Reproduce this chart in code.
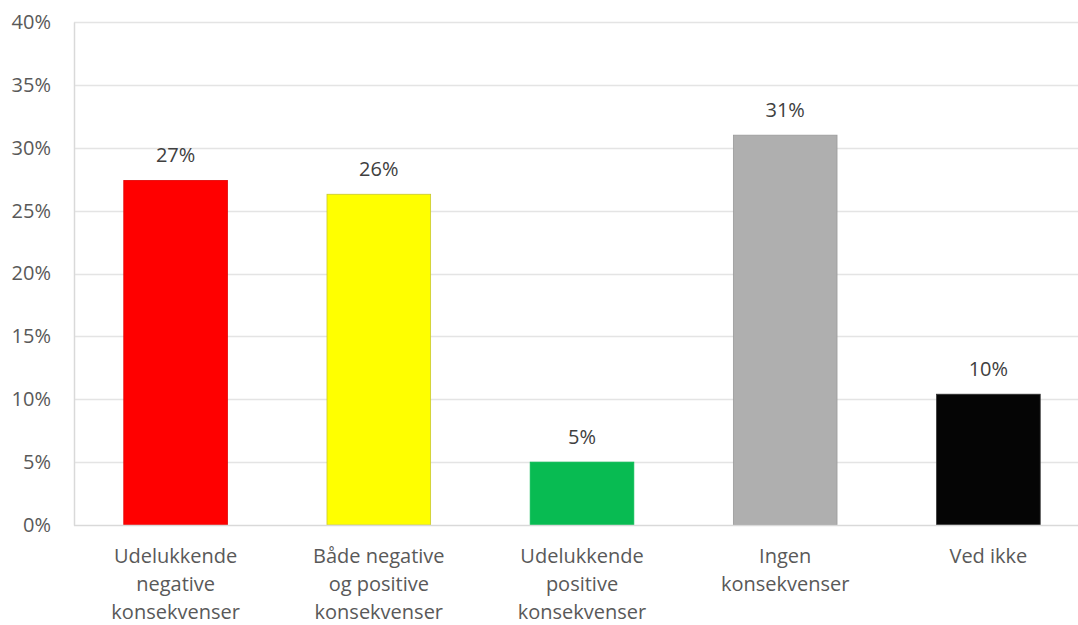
<!DOCTYPE html>
<html>
<head>
<meta charset="utf-8">
<script src="https://cdn.jsdelivr.net/npm/d3@7"></script>
<style>
  body { margin: 0; background: #fff; }
  text { font-family: "Open Sans", "Noto Sans", sans-serif; }
</style>
</head>
<body>
<div id="chart"></div>
<script>
let width = 1078;
let height = 625;
let margin = { top: 22, bottom: 100, left: 74, right: -12 };

const categories = [
  ["Udelukkende", "negative", "konsekvenser"],
  ["Både negative", "og positive", "konsekvenser"],
  ["Udelukkende", "positive", "konsekvenser"],
  ["Ingen", "konsekvenser"],
  ["Ved ikke"],
];
const values = [27.4, 26.3, 5.0, 31.0, 10.4];
const labels = ["27%", "26%", "5%", "31%", "10%"];
const colors = ["#ff0000", "#ffff00", "#08bb52", "#afafaf", "#050505"];
const strokes = ["#e00000", "#c8c830", "#08bb52", "#999999", "#333333"];
const ticks = [0, 5, 10, 15, 20, 25, 30, 35, 40];

let svg = d3
  .select("#chart")
  .append("svg")
  .attr("width", width)
  .attr("height", height);

let x = d3
  .scaleBand()
  .domain(d3.range(values.length))
  .range([margin.left, width - margin.right])
  .paddingInner(0.49)
  .paddingOuter(0.245);

let y = d3
  .scaleLinear()
  .domain([0, 40])
  .range([height - margin.bottom, margin.top]);

// gridlines
svg
  .append("g")
  .selectAll("line")
  .data(ticks.slice(1))
  .enter()
  .append("line")
  .attr("x1", margin.left)
  .attr("x2", width - margin.right)
  .attr("y1", (d) => Math.round(y(d)) + 0.5)
  .attr("y2", (d) => Math.round(y(d)) + 0.5)
  .attr("stroke", "#e4e4e4")
  .attr("stroke-width", 1.3);

// y axis
let yAxis = svg
  .append("g")
  .attr("transform", `translate(${margin.left},0)`)
  .call(
    d3
      .axisLeft(y)
      .tickValues(ticks)
      .tickSize(0)
      .tickPadding(23)
      .tickFormat((d) => d + "%")
  );
yAxis.select(".domain").attr("stroke", "#d9d9d9").attr("stroke-width", 1.5);
yAxis
  .selectAll("text")
  .attr("fill", "#595959")
  .style("font-size", "20px");

// bars
svg
  .append("g")
  .selectAll("rect")
  .data(values)
  .enter()
  .append("rect")
  .attr("x", (d, i) => x(i))
  .attr("y", (d) => y(d))
  .attr("width", x.bandwidth())
  .attr("height", (d) => y(0) - y(d))
  .attr("fill", (d, i) => colors[i])
  .attr("stroke", (d, i) => strokes[i])
  .attr("stroke-width", 0.8);

// x axis baseline
svg
  .append("line")
  .attr("x1", margin.left)
  .attr("x2", width - margin.right)
  .attr("y1", y(0) + 0.5)
  .attr("y2", y(0) + 0.5)
  .attr("stroke", "#d9d9d9")
  .attr("stroke-width", 1.5);

// data labels
svg
  .append("g")
  .selectAll("text")
  .data(values)
  .enter()
  .append("text")
  .attr("x", (d, i) => x(i) + x.bandwidth() / 2)
  .attr("y", (d) => y(d) - 18)
  .attr("text-anchor", "middle")
  .attr("fill", "#404040")
  .style("font-size", "20px")
  .text((d, i) => labels[i]);

// category labels
let cat = svg
  .append("g")
  .selectAll("text")
  .data(categories)
  .enter()
  .append("text")
  .attr("text-anchor", "middle")
  .attr("fill", "#595959")
  .style("font-size", "20px");
cat
  .selectAll("tspan")
  .data((d, i) => d.map((t) => ({ t: t, i: i })))
  .enter()
  .append("tspan")
  .attr("x", (d) => x(d.i) + x.bandwidth() / 2)
  .attr("y", (d, j) => y(0) + 38 + j * 28)
  .text((d) => d.t);
</script>
</body>
</html>
